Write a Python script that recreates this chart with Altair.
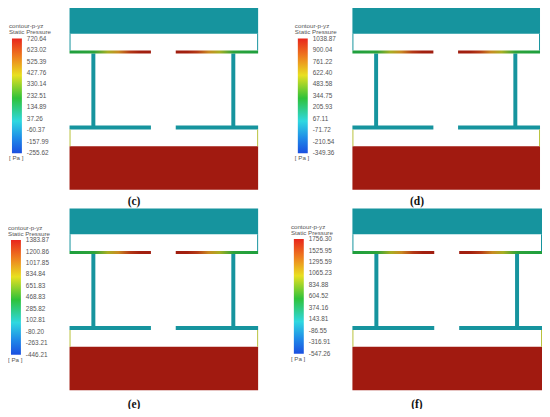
import altair as alt
import pandas as pd

# ---------------- data ----------------
panels = ["(c)", "(d)", "(e)", "(f)"]
panel_x0 = [67, 352, 67, 352]        # left edge of the flow domain
panel_y0 = [5, 5, 208, 208]          # top edge of the flow domain
panel_w = [190, 189, 190, 191]       # width of the flow domain
label_x = [132, 417, 132, 417]
label_y = [201, 201, 407, 407]

# geometry of the domain in reference units (width 190)
part_names = ["top_block", "bottom_block", "post_l", "post_r", "bbar_l", "bbar_r",
              "tw_l", "tw_r", "bw_l", "bw_r"]
part_x0 = [0, 0, 22, 163, 0, 107, 0, 189, 0, 189]
part_x1 = [190, 190, 26, 167, 82, 190, 1, 190, 1, 190]
part_y0 = [0, 140, 46, 46, 119, 119, 26, 26, 123, 123]
part_y1 = [26, 184, 120, 120, 123, 123, 43, 43, 140, 140]
part_color = ["#16949e", "#a11a10", "#16949e", "#16949e", "#16949e", "#16949e",
              "#16949e", "#16949e", "#b9c23c", "#b9c23c"]

# top bars with pressure gradient
tbar_l = (0, 82)
tbar_r = (107, 190)
tbar_y = (43, 46)

# colour bars
cb_x = [9, 297, 8, 293]
cb_y = [36, 36, 240, 239]
cb_w = 10
cb_h = 116

ticks_c = ["720.64", "623.02", "525.39", "427.76", "330.14", "232.51", "134.89",
           "37.26", "-60.37", "-157.99", "-255.62"]
ticks_d = ["1038.87", "900.04", "761.22", "622.40", "483.58", "344.75", "205.93",
           "67.11", "-71.72", "-210.54", "-349.36"]
ticks_e = ["1383.87", "1200.86", "1017.85", "834.84", "651.83", "468.83", "285.82",
           "102.81", "-80.20", "-263.21", "-446.21"]
ticks_f = ["1756.30", "1525.95", "1295.59", "1065.23", "834.88", "604.52", "374.16",
           "143.81", "-86.55", "-316.91", "-547.26"]
ticks_all = [ticks_c, ticks_d, ticks_e, ticks_f]

# ---------------- build tables ----------------
rect_rows = []
gl_rows, gr_rows, cb_rows = [], [], []
tick_rows, title_rows = [], []
for i, p in enumerate(panels):
    s = panel_w[i] / 190.0
    ox, oy = panel_x0[i], panel_y0[i]
    for n, a, b, c, d, col in zip(part_names, part_x0, part_x1, part_y0, part_y1, part_color):
        rect_rows.append(dict(x=ox + a * s, x2=ox + b * s, y=oy + c, y2=oy + d, col=col))
    gl_rows.append(dict(x=ox + tbar_l[0] * s, x2=ox + tbar_l[1] * s, y=oy + tbar_y[0], y2=oy + tbar_y[1]))
    gr_rows.append(dict(x=ox + tbar_r[0] * s, x2=ox + tbar_r[1] * s, y=oy + tbar_y[0], y2=oy + tbar_y[1]))
    cb_rows.append(dict(x=cb_x[i], x2=cb_x[i] + cb_w, y=cb_y[i], y2=cb_y[i] + cb_h))
    n = len(ticks_all[i])
    for k, t in enumerate(ticks_all[i]):
        tick_rows.append(dict(x=cb_x[i] + cb_w + 5, y=cb_y[i] + cb_h * k / (n - 1), t=t))
    title_rows.append(dict(x=cb_x[i] - 3, y=cb_y[i] - 12.5, t="contour-p-yz"))
    title_rows.append(dict(x=cb_x[i] - 3, y=cb_y[i] - 6.5, t="Static Pressure"))
    title_rows.append(dict(x=cb_x[i] - 3, y=cb_y[i] + cb_h + 5, t="[ Pa ]"))

rects = pd.DataFrame(rect_rows)
gl = pd.DataFrame(gl_rows)
gr = pd.DataFrame(gr_rows)
cbs = pd.DataFrame(cb_rows)
tick_df = pd.DataFrame(tick_rows)
title_df = pd.DataFrame(title_rows)
lab_df = pd.DataFrame(dict(x=label_x, y=label_y, t=panels))

W, H = 534, 401
xs = alt.Scale(domain=[5, 543], nice=False, zero=False)
ys = alt.Scale(domain=[5, 411], nice=False, zero=False, reverse=True)

X = lambda f="x": alt.X(f"{f}:Q", scale=xs, axis=None)
Y = lambda f="y": alt.Y(f"{f}:Q", scale=ys, axis=None)

base_rect = alt.Chart(rects).mark_rect().encode(
    x=X(), x2="x2:Q", y=Y(), y2="y2:Q", color=alt.Color("col:N", scale=None))

stops_bar = [
    alt.GradientStop(color="#1e9f3e", offset=0),
    alt.GradientStop(color="#2ca33a", offset=0.3),
    alt.GradientStop(color="#a8ae22", offset=0.47),
    alt.GradientStop(color="#c98a22", offset=0.6),
    alt.GradientStop(color="#b53a16", offset=0.74),
    alt.GradientStop(color="#a3200f", offset=0.86),
    alt.GradientStop(color="#a01e10", offset=1)]
grad_l = alt.LinearGradient(gradient="linear", x1=0, x2=1, y1=0, y2=0, stops=stops_bar)
grad_r = alt.LinearGradient(gradient="linear", x1=1, x2=0, y1=0, y2=0, stops=stops_bar)
grad_cb = alt.LinearGradient(gradient="linear", x1=0, x2=0, y1=0, y2=1, stops=[
    alt.GradientStop(color="#e8261c", offset=0),
    alt.GradientStop(color="#ee7a1e", offset=0.15),
    alt.GradientStop(color="#e8e020", offset=0.32),
    alt.GradientStop(color="#2fc23a", offset=0.52),
    alt.GradientStop(color="#2fd8e0", offset=0.72),
    alt.GradientStop(color="#1f8ae8", offset=0.87),
    alt.GradientStop(color="#1a4fe0", offset=1)])

bar_l = alt.Chart(gl).mark_rect(color=grad_l).encode(x=X(), x2="x2:Q", y=Y(), y2="y2:Q")
bar_r = alt.Chart(gr).mark_rect(color=grad_r).encode(x=X(), x2="x2:Q", y=Y(), y2="y2:Q")
cbar = alt.Chart(cbs).mark_rect(color=grad_cb).encode(x=X(), x2="x2:Q", y=Y(), y2="y2:Q")

ticks = alt.Chart(tick_df).mark_text(
    align="left", baseline="middle", font="Liberation Sans", fontSize=6.4, color="#555555"
).encode(x=X(), y=Y(), text="t:N")
titles = alt.Chart(title_df).mark_text(
    align="left", baseline="middle", font="Liberation Sans", fontSize=6.2, color="#555555"
).encode(x=X(), y=Y(), text="t:N")
labels = alt.Chart(lab_df).mark_text(
    align="center", baseline="middle", font="Liberation Serif", fontSize=11.5,
    fontWeight="bold", color="#111111"
).encode(x=X(), y=Y(), text="t:N")

chart = alt.layer(base_rect, bar_l, bar_r, cbar, ticks, titles, labels).properties(
    width=W, height=H, autosize=alt.AutoSizeParams(type="none"), padding=0
).configure_view(stroke=None)

chart.save("out.html", embed_options={"renderer": "svg", "actions": False})
